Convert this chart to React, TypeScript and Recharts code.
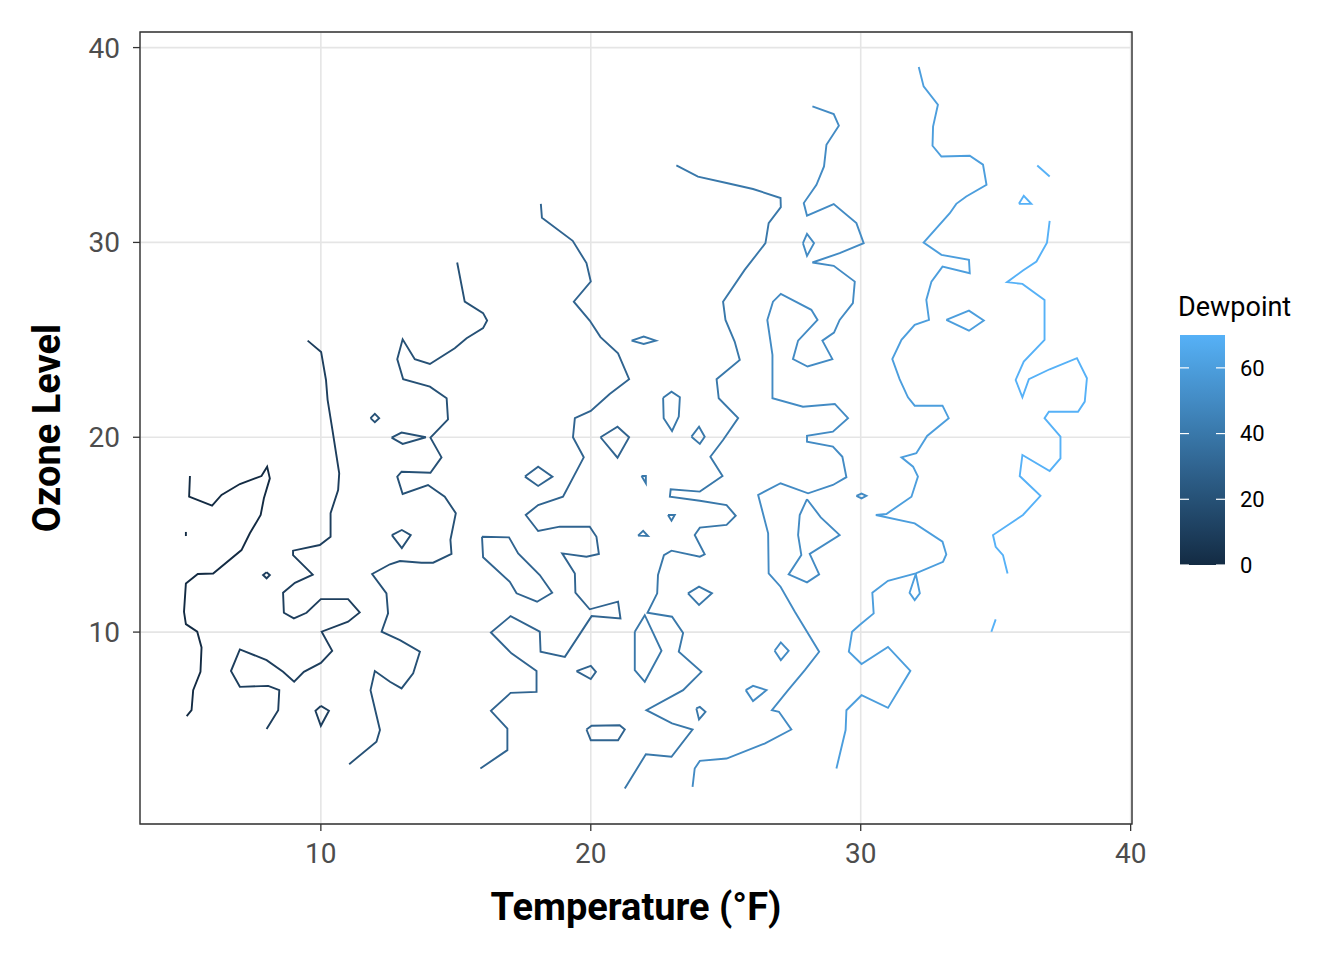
import React from "react";
import {
  CartesianGrid,
  Line,
  LineChart,
  ReferenceArea,
  XAxis,
  YAxis,
} from "recharts";

type Pt = [number, number];

// contour levels (dewpoint) and axis ticks
const levels = [0, 10, 20, 30, 40, 50, 60, 70];
const xTicks = [10, 20, 30, 40];
const yTicks = [10, 20, 30, 40];
const legendTicks = [0, 20, 40, 60];

// [temperature, ozone] points, one array per contour piece
const dew0Main: Pt[] = [
  [5.15, 18.01], [5.12, 16.95], [5.97, 16.49], [6.32, 17.04], [7.0, 17.6], [7.8, 18.01],
  [8.01, 18.49], [8.11, 17.89], [7.89, 16.87], [7.77, 16.01], [7.37, 15.07], [7.06, 14.21],
  [6.01, 13.01], [5.44, 12.98], [5.0, 12.5], [4.93, 11.04], [5.0, 10.41], [5.42, 10.02],
  [5.58, 9.21], [5.54, 7.96], [5.27, 7.02], [5.21, 5.99], [5.03, 5.69],
];
const dew0Stub: Pt[] = [[5.0, 15.14], [5.0, 14.93]];

const dew10Main: Pt[] = [
  [9.51, 24.96], [10.01, 24.38], [10.19, 22.94], [10.25, 21.92], [10.43, 20.37], [10.68, 18.15],
  [10.64, 17.29], [10.36, 16.1], [10.36, 14.89], [9.96, 14.47], [8.97, 14.18], [8.97, 13.95],
  [9.7, 12.95], [9.04, 12.53], [8.6, 12.02], [8.63, 10.99], [9.0, 10.7], [9.47, 10.99],
  [10.0, 11.69], [11.01, 11.69], [11.44, 11.01], [11.01, 10.53], [10.03, 10.02], [10.42, 9.04],
  [10.0, 8.42], [9.37, 7.96], [9.01, 7.45], [8.6, 7.96], [7.99, 8.56], [7.0, 9.11],
  [6.67, 8.0], [7.0, 7.19], [8.05, 7.24], [8.46, 7.02], [8.42, 5.99], [7.99, 5.02],
];
const dew10Diamond: Pt[] = [[7.99, 13.07], [8.11, 12.93], [7.99, 12.76], [7.86, 12.93], [7.99, 13.07]];
const dew10Drop: Pt[] = [[10.0, 6.21], [10.3, 5.96], [10.0, 5.19], [9.8, 5.96], [10.0, 6.21]];

const dew20Main: Pt[] = [
  [15.05, 28.97], [15.33, 26.96], [16.01, 26.37], [16.16, 25.99], [16.01, 25.6], [15.4, 25.08],
  [14.96, 24.57], [14.04, 23.76], [13.48, 24.01], [13.03, 25.03], [12.83, 24.01], [13.05, 22.98],
  [14.04, 22.6], [14.66, 22.0], [14.71, 20.92], [14.06, 19.98], [14.47, 18.97], [14.06, 18.18],
  [12.99, 18.23], [12.83, 17.98], [13.03, 17.09], [13.97, 17.55], [14.59, 16.95], [15.0, 16.1],
  [14.8, 14.73], [14.84, 14.01], [14.16, 13.56], [13.73, 13.56], [12.93, 13.65], [12.56, 13.48],
  [11.9, 12.98], [12.43, 11.99], [12.49, 10.96], [12.25, 10.02], [12.93, 9.59], [13.67, 8.99],
  [13.42, 7.88], [12.99, 7.11], [12.56, 7.45], [12.0, 8.0], [11.84, 7.02], [12.19, 4.97],
  [12.06, 4.37], [11.05, 3.22],
];
const dew20Lens: Pt[] = [[12.62, 19.98], [12.99, 20.24], [13.89, 20.0], [13.03, 19.66], [12.62, 19.98]];
const dew20Diamond: Pt[] = [[12.63, 14.98], [13.0, 15.24], [13.33, 14.98], [13.0, 14.31], [12.63, 14.98]];
const dew20Small: Pt[] = [[11.84, 20.98], [12.0, 21.2], [12.16, 20.98], [12.0, 20.77], [11.84, 20.98]];

const dew30Main: Pt[] = [
  [18.15, 31.98], [18.19, 31.26], [19.33, 30.08], [19.84, 28.94], [20.0, 27.99], [19.37, 26.96],
  [19.96, 25.99], [20.36, 25.14], [21.01, 24.31], [21.42, 22.98], [20.7, 22.22], [20.0, 21.35],
  [19.41, 20.98], [19.34, 20.0], [19.74, 18.97], [18.97, 16.95], [18.05, 16.52], [17.59, 16.01],
  [18.05, 15.19], [18.85, 15.41], [19.96, 15.41], [20.21, 14.89], [20.3, 14.01], [19.84, 13.87],
  [18.94, 14.04], [19.41, 13.01], [19.43, 12.02], [19.96, 11.17], [21.01, 11.56], [21.1, 10.7],
  [20.03, 10.82], [19.04, 8.73], [18.14, 8.99], [18.11, 10.02], [17.03, 10.82], [16.3, 9.98],
  [17.06, 8.91], [17.99, 8.0], [17.99, 6.93], [17.03, 6.88], [16.3, 5.96], [16.91, 5.05],
  [16.91, 3.94], [15.91, 3.0],
];
const dew30Island: Pt[] = [
  [15.97, 14.89], [16.97, 14.86], [17.31, 14.04], [18.11, 12.93], [18.57, 12.02], [18.01, 11.56],
  [17.25, 11.99], [17.0, 12.58], [16.01, 13.84], [15.97, 14.89],
];
const dew30DiamondA: Pt[] = [[17.56, 17.98], [18.05, 18.49], [18.58, 17.98], [18.05, 17.5], [17.56, 17.98]];
const dew30DiamondB: Pt[] = [[20.36, 20.0], [20.99, 20.54], [21.42, 20.0], [20.99, 18.95], [20.36, 20.0]];
const dew30DiamondC: Pt[] = [[19.47, 8.0], [20.0, 8.27], [20.19, 7.96], [20.0, 7.59], [19.47, 8.0]];
const dew30Hex: Pt[] = [[19.84, 5.0], [20.03, 5.19], [21.07, 5.22], [21.26, 5.0], [21.01, 4.45], [20.0, 4.45], [19.84, 5.0]];

const dew40Main: Pt[] = [
  [23.17, 33.95], [23.97, 33.38], [25.03, 33.05], [26.01, 32.74], [27.03, 32.28], [27.04, 31.81],
  [26.59, 30.99], [26.47, 29.96], [25.7, 28.59], [24.9, 26.96], [24.99, 26.02], [25.33, 24.91],
  [25.52, 23.97], [24.66, 22.98], [24.74, 22.0], [25.46, 20.98], [24.9, 19.86], [24.43, 19.0],
  [24.88, 18.01], [24.04, 17.21], [22.96, 17.33], [22.93, 16.95], [24.04, 16.74], [25.03, 16.52],
  [25.37, 15.97], [25.03, 15.5], [24.04, 15.36], [23.85, 14.98], [24.22, 13.99], [24.04, 13.87],
  [22.99, 14.18], [22.71, 13.95], [22.49, 12.93], [22.46, 11.99], [22.1, 10.99], [23.01, 10.79],
  [23.42, 9.96], [23.26, 8.99], [24.1, 7.96], [23.42, 7.02], [22.06, 5.99], [23.01, 5.31],
  [23.77, 5.0], [22.99, 3.6], [22.04, 3.73], [21.26, 1.97],
];
const dew40Lens: Pt[] = [[21.51, 24.96], [21.96, 25.17], [22.41, 24.96], [21.96, 24.79], [21.51, 24.96]];
const dew40Drop: Pt[] = [[22.68, 22.03], [22.99, 22.34], [23.3, 22.05], [23.26, 21.06], [23.01, 20.32], [22.7, 20.98], [22.68, 22.03]];
const dew40DiamondA: Pt[] = [[23.73, 20.03], [24.01, 20.54], [24.22, 20.03], [24.04, 19.66], [23.73, 20.03]];
const dew40TriA: Pt[] = [[21.88, 18.01], [22.04, 18.01], [22.04, 17.64], [21.88, 18.01]];
const dew40TriB: Pt[] = [[22.86, 16.01], [23.11, 16.01], [22.99, 15.72], [22.86, 16.01]];
const dew40TriC: Pt[] = [[21.75, 14.95], [21.94, 15.2], [22.12, 14.93], [21.75, 14.95]];
const dew40DiamondB: Pt[] = [[23.6, 11.99], [24.01, 12.33], [24.49, 11.99], [24.01, 11.39], [23.6, 11.99]];
const dew40Loop: Pt[] = [[21.63, 10.02], [22.0, 10.87], [22.62, 9.04], [22.0, 7.45], [21.63, 8.05], [21.63, 10.02]];
const dew40Small: Pt[] = [[23.91, 6.08], [24.04, 6.16], [24.25, 5.91], [24.01, 5.52], [23.91, 6.08]];

const dew50Main: Pt[] = [
  [28.21, 36.98], [29.0, 36.59], [29.19, 35.99], [28.73, 35.01], [28.64, 33.9], [28.36, 32.96],
  [27.89, 32.02], [28.01, 31.37], [29.0, 31.97], [29.84, 30.99], [30.11, 29.96], [29.22, 29.45],
  [28.21, 28.97], [29.0, 28.8], [29.78, 27.99], [29.71, 26.88], [29.22, 26.02], [29.01, 25.37],
  [28.58, 24.96], [28.95, 24.01], [28.03, 23.63], [27.49, 24.01], [27.68, 24.96], [28.4, 26.02],
  [28.17, 26.54], [27.04, 27.36], [26.75, 26.96], [26.54, 26.02], [26.73, 24.23], [26.73, 22.0],
  [27.86, 21.57], [29.04, 21.71], [29.53, 20.98], [28.97, 20.29], [28.01, 20.07], [28.01, 19.77],
  [28.97, 19.52], [29.32, 19.0], [29.47, 17.95], [28.97, 17.55], [28.05, 17.12], [27.03, 17.64],
  [26.2, 17.04], [26.57, 15.07], [26.59, 13.01], [27.03, 12.33], [27.56, 11.04], [28.46, 8.99],
  [27.93, 8.05], [27.31, 7.02], [26.71, 5.99], [26.97, 5.91], [27.43, 5.0], [26.44, 4.28],
  [25.03, 3.51], [24.04, 3.39], [23.85, 3.0], [23.77, 2.05],
];
const dew50Diamond: Pt[] = [[27.86, 29.96], [28.01, 30.44], [28.27, 29.96], [28.01, 29.31], [27.86, 29.96]];
const dew50Island: Pt[] = [
  [28.01, 16.82], [27.74, 16.01], [27.68, 14.98], [27.8, 13.95], [27.33, 12.96], [28.01, 12.55],
  [28.46, 12.96], [28.11, 14.01], [29.22, 14.98], [28.52, 15.89], [28.01, 16.82],
];
const dew50DiamondA: Pt[] = [[26.81, 9.04], [27.04, 9.47], [27.33, 9.04], [27.04, 8.56], [26.81, 9.04]];
const dew50DiamondB: Pt[] = [[25.74, 7.02], [26.01, 7.24], [26.51, 7.02], [26.01, 6.46], [25.74, 7.02]];
const dew50Lens: Pt[] = [[29.84, 16.99], [30.03, 17.11], [30.21, 16.99], [30.03, 16.86], [29.84, 16.99]];

const dew60Main: Pt[] = [
  [32.15, 39.0], [32.33, 38.01], [32.86, 37.07], [32.68, 35.95], [32.66, 34.96], [32.99, 34.41],
  [34.04, 34.45], [34.53, 33.99], [34.66, 32.96], [33.91, 32.36], [33.54, 31.98], [33.3, 31.5],
  [32.33, 29.99], [32.99, 29.36], [34.01, 29.11], [34.04, 28.42], [33.03, 28.76], [32.62, 27.99],
  [32.43, 27.05], [32.53, 26.02], [32.0, 25.77], [31.51, 25.0], [31.17, 24.01], [31.44, 22.98],
  [31.75, 22.05], [32.0, 21.62], [33.03, 21.62], [33.26, 20.98], [32.46, 20.07], [32.06, 19.18],
  [31.51, 18.97], [31.94, 18.49], [32.12, 17.98], [31.88, 16.95], [30.95, 16.06], [30.56, 16.01],
  [32.0, 15.58], [33.03, 14.64], [33.17, 13.99], [33.05, 13.61], [32.04, 13.01], [31.01, 12.63],
  [30.43, 12.02], [30.48, 10.96], [29.96, 10.36], [29.68, 10.02], [29.56, 8.99], [30.03, 8.36],
  [31.01, 9.24], [31.84, 8.01], [31.01, 6.11], [30.03, 6.76], [29.47, 5.99], [29.44, 4.97],
  [29.1, 3.0],
];
const dew60Drop: Pt[] = [[32.04, 12.98], [32.19, 11.99], [32.0, 11.64], [31.81, 12.02], [32.04, 12.98]];
const dew60Diamond: Pt[] = [[33.17, 26.02], [34.01, 26.5], [34.56, 25.99], [34.01, 25.47], [33.17, 26.02]];

const dew70Main: Pt[] = [
  [37.0, 31.11], [36.9, 29.99], [36.51, 29.02], [36.01, 28.56], [35.42, 27.96], [35.99, 27.87],
  [36.81, 27.05], [36.81, 25.0], [36.04, 23.88], [35.74, 22.94], [35.99, 22.05], [36.23, 22.98],
  [37.0, 23.49], [38.01, 24.06], [38.38, 23.03], [38.3, 21.83], [38.05, 21.31], [36.97, 21.31],
  [36.81, 20.98], [37.4, 20.03], [37.4, 18.92], [37.0, 18.27], [35.99, 19.09], [35.89, 18.01],
  [36.66, 16.99], [36.01, 16.01], [34.9, 14.98], [35.0, 14.38], [35.27, 13.95], [35.44, 13.01],
];
const dew70Stub: Pt[] = [[35.0, 10.65], [34.84, 10.02]];
const dew70Top: Pt[] = [[36.54, 33.95], [37.0, 33.38]];
const dew70Tri: Pt[] = [[35.86, 31.98], [36.04, 32.39], [36.32, 31.98], [35.86, 31.98]];

const contours: { level: number; pts: Pt[] }[] = [
  { level: 0, pts: dew0Main }, { level: 0, pts: dew0Stub },
  { level: 10, pts: dew10Main }, { level: 10, pts: dew10Diamond }, { level: 10, pts: dew10Drop },
  { level: 20, pts: dew20Main }, { level: 20, pts: dew20Lens }, { level: 20, pts: dew20Diamond },
  { level: 20, pts: dew20Small },
  { level: 30, pts: dew30Main }, { level: 30, pts: dew30Island }, { level: 30, pts: dew30DiamondA },
  { level: 30, pts: dew30DiamondB }, { level: 30, pts: dew30DiamondC }, { level: 30, pts: dew30Hex },
  { level: 40, pts: dew40Main }, { level: 40, pts: dew40Lens }, { level: 40, pts: dew40Drop },
  { level: 40, pts: dew40DiamondA }, { level: 40, pts: dew40TriA }, { level: 40, pts: dew40TriB },
  { level: 40, pts: dew40TriC }, { level: 40, pts: dew40DiamondB }, { level: 40, pts: dew40Loop },
  { level: 40, pts: dew40Small },
  { level: 50, pts: dew50Main }, { level: 50, pts: dew50Diamond }, { level: 50, pts: dew50Island },
  { level: 50, pts: dew50DiamondA }, { level: 50, pts: dew50DiamondB }, { level: 50, pts: dew50Lens },
  { level: 60, pts: dew60Main }, { level: 60, pts: dew60Drop }, { level: 60, pts: dew60Diamond },
  { level: 70, pts: dew70Main }, { level: 70, pts: dew70Stub }, { level: 70, pts: dew70Top },
  { level: 70, pts: dew70Tri },
];

const LOW = [0x13, 0x2b, 0x43];
const HIGH = [0x56, 0xb1, 0xf7];
const maxLevel = levels[levels.length - 1];

function colorAt(v: number) {
  const t = Math.max(0, Math.min(1, v / maxLevel));
  const c = LOW.map((lo, i) => Math.round(lo + (HIGH[i] - lo) * t));
  return `rgb(${c[0]},${c[1]},${c[2]})`;
}

const W = 1336;
const H = 952;
const FONT = "Roboto, 'Noto Sans', sans-serif";

function ColourLegend() {
  const barX = 1172;
  const barTop = 327;
  const barH = 230;
  const barW = 45;
  const yOf = (v: number) => barTop + barH - (v / maxLevel) * barH;
  return (
    <svg
      width={W}
      height={H}
      style={{ position: "absolute", left: 0, top: 0, pointerEvents: "none" }}
    >
      <defs>
        <linearGradient id="dewGrad" x1="0" y1="1" x2="0" y2="0">
          {levels.map((l) => (
            <stop key={l} offset={l / maxLevel} stopColor={colorAt(l)} />
          ))}
        </linearGradient>
      </defs>
      <text x={1170} y={308} fontSize={27} fontFamily={FONT} fill="#000">
        Dewpoint
      </text>
      <rect x={barX} y={barTop} width={barW} height={barH} fill="url(#dewGrad)" />
      {legendTicks.map((v) => (
        <g key={v}>
          <line x1={barX} x2={barX + 9} y1={yOf(v)} y2={yOf(v)} stroke="#fff" strokeWidth={1.2} />
          <line x1={barX + barW - 9} x2={barX + barW} y1={yOf(v)} y2={yOf(v)} stroke="#fff" strokeWidth={1.2} />
          <text
            x={1232}
            y={yOf(v)}
            dy="0.36em"
            fontSize={22}
            fontFamily={FONT}
            fill="#000"
          >
            {v}
          </text>
        </g>
      ))}
    </svg>
  );
}

export default function App() {
  const tickStyle = { fill: "#4D4D4D", fontSize: 28, fontFamily: FONT };
  return (
    <div style={{ position: "relative", width: W, height: H, fontFamily: FONT }}>
      <LineChart
        width={W}
        height={H}
        margin={{ top: 24, right: 212, bottom: 86, left: 39 }}
      >
        <CartesianGrid stroke="#E5E5E5" strokeWidth={1.6} />
        <XAxis
          type="number"
          dataKey="t"
          domain={[3.3, 40.05]}
          ticks={xTicks}
          allowDataOverflow
          height={50}
          axisLine={false}
          tickSize={7}
          tickMargin={12}
          tickLine={{ stroke: "#333333", strokeWidth: 1.3 }}
          tick={tickStyle}
          label={{
            value: "Temperature (°F)",
            position: "bottom",
            offset: 19,
            style: { fontSize: 38, fontWeight: 700, fill: "#000", fontFamily: FONT },
          }}
        />
        <YAxis
          type="number"
          dataKey="o"
          domain={[0.15, 40.8]}
          ticks={yTicks}
          allowDataOverflow
          width={93}
          axisLine={false}
          tickSize={7}
          tickMargin={13}
          tickLine={{ stroke: "#333333", strokeWidth: 1.3 }}
          tick={tickStyle}
          label={{
            value: "Ozone Level",
            angle: -90,
            position: "insideLeft",
            offset: 0,
            style: {
              textAnchor: "middle",
              fontSize: 38,
              fontWeight: 700,
              fill: "#000",
              fontFamily: FONT,
            },
          }}
        />
        {contours.map((c, i) => (
          <Line
            key={i}
            data={c.pts.map(([t, o]) => ({ t, o }))}
            dataKey="o"
            type="linear"
            stroke={colorAt(c.level)}
            strokeWidth={1.9}
            dot={false}
            activeDot={false}
            isAnimationActive={false}
          />
        ))}
        <ReferenceArea
          x1={3.3}
          x2={40.05}
          y1={0.15}
          y2={40.8}
          fill="none"
          stroke="#333333"
          strokeWidth={1.4}
          ifOverflow="visible"
        />
      </LineChart>
      <ColourLegend />
    </div>
  );
}
